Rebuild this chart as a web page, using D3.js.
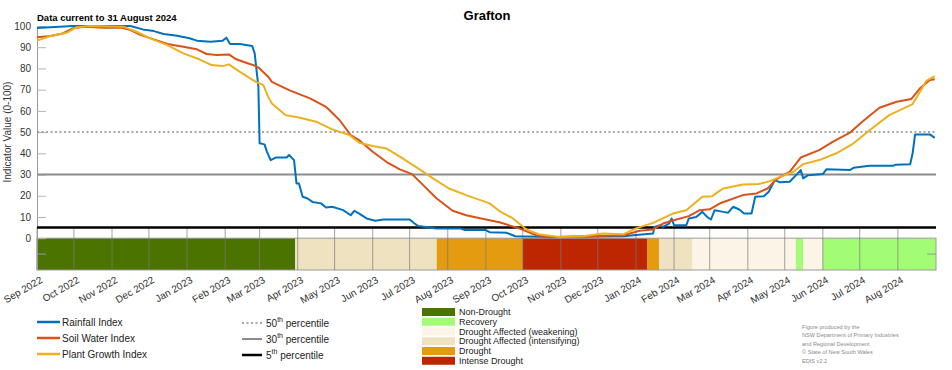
<!DOCTYPE html>
<html>
<head>
<meta charset="utf-8">
<script src="https://cdn.jsdelivr.net/npm/d3@7"></script>
<style>
  body { margin: 0; background: #fff; }
  svg { display: block; font-family: "Liberation Sans", Arial, sans-serif; }
</style>
</head>
<body>
<div class="chart"></div>
<script>
// index values, [date, value]
const rainfallIndex = [
  ["2022-09-01", 99], ["2022-09-30", 100], ["2022-11-16", 100], ["2022-11-26", 98.4],
  ["2022-12-05", 97.6], ["2022-12-13", 96.2], ["2022-12-24", 95.4], ["2023-01-03", 94.2],
  ["2023-01-09", 93.1], ["2023-01-20", 92.6], ["2023-01-30", 93.1], ["2023-02-02", 94.5],
  ["2023-02-05", 91.5], ["2023-02-13", 91.5], ["2023-02-23", 90.6], ["2023-02-25", 87.1],
  ["2023-02-28", 71.4], ["2023-03-01", 44.7], ["2023-03-05", 44.2], ["2023-03-07", 40.7],
  ["2023-03-10", 36.8], ["2023-03-14", 38], ["2023-03-23", 38], ["2023-03-25", 39.2],
  ["2023-03-29", 36.8], ["2023-03-31", 25.8], ["2023-04-02", 25.8], ["2023-04-05", 19.5],
  ["2023-04-09", 18.7], ["2023-04-13", 17.1], ["2023-04-20", 16.4], ["2023-04-24", 14.5],
  ["2023-04-29", 14.8], ["2023-05-08", 13.2], ["2023-05-14", 10.8], ["2023-05-17", 12.9],
  ["2023-05-21", 11.6], ["2023-05-27", 9.3], ["2023-06-03", 8.2], ["2023-06-10", 8.8],
  ["2023-07-01", 8.8], ["2023-07-05", 6.9], ["2023-07-08", 5.7], ["2023-07-23", 4.6],
  ["2023-08-11", 4.6], ["2023-08-15", 3.8], ["2023-09-01", 3.8], ["2023-09-04", 2.8],
  ["2023-09-18", 2.5], ["2023-09-25", 0.9], ["2023-10-28", 0.6], ["2023-12-22", 0.9],
  ["2023-12-30", 1.4], ["2024-01-15", 2.2], ["2024-01-16", 5.3], ["2024-01-20", 6],
  ["2024-01-23", 5.3], ["2024-01-28", 6.9], ["2024-01-30", 9.3], ["2024-02-01", 6.1],
  ["2024-02-11", 6.1], ["2024-02-13", 9.3], ["2024-02-19", 10], ["2024-02-24", 12.4],
  ["2024-02-28", 10], ["2024-03-02", 8.8], ["2024-03-05", 13.2], ["2024-03-12", 12.4],
  ["2024-03-16", 12], ["2024-03-20", 14.8], ["2024-03-25", 13.5], ["2024-03-29", 11.6],
  ["2024-04-04", 11.6], ["2024-04-07", 19.5], ["2024-04-14", 19.8], ["2024-04-18", 21.9],
  ["2024-04-23", 27.4], ["2024-04-27", 26.3], ["2024-05-05", 26.6], ["2024-05-11", 30.2],
  ["2024-05-14", 32.1], ["2024-05-16", 28.2], ["2024-05-20", 29.7], ["2024-06-01", 30.2],
  ["2024-06-04", 32.5], ["2024-06-23", 32.1], ["2024-06-26", 33.2], ["2024-07-09", 34.1],
  ["2024-07-28", 34.1], ["2024-07-30", 34.6], ["2024-08-11", 34.8], ["2024-08-13", 40],
  ["2024-08-15", 48.9], ["2024-08-27", 48.9], ["2024-08-31", 47.3]
];

const soilWaterIndex = [
  ["2022-09-01", 94.7], ["2022-09-12", 95.3], ["2022-09-22", 96.5], ["2022-09-30", 98.9],
  ["2022-10-10", 99.7], ["2022-10-25", 99.2], ["2022-11-09", 99.2], ["2022-11-16", 98.1],
  ["2022-11-24", 95.8], ["2022-12-05", 93.7], ["2022-12-16", 91.5], ["2022-12-29", 90.2],
  ["2023-01-09", 89], ["2023-01-17", 86.8], ["2023-01-25", 86.3], ["2023-02-04", 86.6],
  ["2023-02-10", 84.3], ["2023-02-18", 82.7], ["2023-02-26", 81.1], ["2023-03-01", 80],
  ["2023-03-08", 76.1], ["2023-03-11", 73.7], ["2023-03-25", 69.8], ["2023-04-11", 65.9],
  ["2023-04-24", 61.9], ["2023-05-05", 55.7], ["2023-05-14", 48.6], ["2023-05-21", 46.2],
  ["2023-06-01", 40.7], ["2023-06-12", 36], ["2023-06-23", 32.4], ["2023-07-03", 30.2],
  ["2023-07-12", 25], ["2023-07-23", 18.7], ["2023-08-05", 12.9], ["2023-08-16", 10.8],
  ["2023-09-01", 8.8], ["2023-09-12", 7.5], ["2023-09-28", 4.6], ["2023-10-12", 1.4],
  ["2023-10-28", 0.6], ["2023-11-24", 0.9], ["2023-12-22", 1.4], ["2024-01-04", 3.5],
  ["2024-01-15", 4.1], ["2024-01-23", 6.9], ["2024-02-03", 8.8], ["2024-02-13", 10.4],
  ["2024-02-22", 13.2], ["2024-03-01", 13.6], ["2024-03-10", 16.6], ["2024-03-28", 20.3],
  ["2024-04-08", 21.1], ["2024-04-17", 23.4], ["2024-04-24", 27.7], ["2024-05-05", 31.3],
  ["2024-05-14", 38], ["2024-05-29", 41.5], ["2024-06-09", 45.4], ["2024-06-23", 49.7],
  ["2024-07-03", 54.9], ["2024-07-17", 61.5], ["2024-07-31", 64.3], ["2024-08-12", 65.6],
  ["2024-08-19", 70.6], ["2024-08-27", 74.5], ["2024-08-31", 74.9]
];

const plantGrowthIndex = [
  ["2022-09-01", 93.1], ["2022-09-12", 95.3], ["2022-09-25", 96.8], ["2022-10-03", 99.4],
  ["2022-10-14", 100], ["2022-11-10", 99.7], ["2022-11-21", 97.3], ["2022-12-02", 94.2],
  ["2022-12-16", 91], ["2022-12-29", 87.1], ["2023-01-11", 84.3], ["2023-01-21", 81.6],
  ["2023-01-30", 81.1], ["2023-02-04", 81.9], ["2023-02-13", 78.4], ["2023-02-26", 73.7],
  ["2023-03-04", 72.2], ["2023-03-08", 66.6], ["2023-03-11", 63.5], ["2023-03-22", 58],
  ["2023-04-02", 56.9], ["2023-04-16", 54.9], ["2023-04-29", 51.3], ["2023-05-13", 48.6],
  ["2023-05-21", 45], ["2023-06-01", 43.4], ["2023-06-12", 42.3], ["2023-06-23", 38.4],
  ["2023-07-06", 33.6], ["2023-07-20", 28.2], ["2023-08-02", 23.4], ["2023-08-16", 20.3],
  ["2023-09-04", 16.4], ["2023-09-12", 12.8], ["2023-09-23", 9.3], ["2023-10-04", 4.1],
  ["2023-10-15", 1.7], ["2023-10-31", 0.6], ["2023-11-19", 0.9], ["2023-12-05", 2.2],
  ["2023-12-22", 1.9], ["2024-01-01", 4.6], ["2024-01-15", 7.2], ["2024-01-31", 11.6],
  ["2024-02-11", 13.2], ["2024-02-24", 19.5], ["2024-03-03", 19.8], ["2024-03-09", 22.3],
  ["2024-03-12", 23.4], ["2024-03-28", 25.3], ["2024-04-10", 25.5], ["2024-04-19", 26.9],
  ["2024-04-27", 28.9], ["2024-05-08", 31.3], ["2024-05-16", 34.9], ["2024-05-29", 36.8],
  ["2024-06-12", 40], ["2024-06-26", 44.7], ["2024-07-09", 50.9], ["2024-07-25", 58],
  ["2024-08-13", 63.2], ["2024-08-19", 69], ["2024-08-24", 74.1], ["2024-08-31", 76.4]
];

// drought category bar: [from, to, category]
const droughtPhases = [
  ["2022-09-01", "2023-03-30", "Non-Drought"],
  ["2023-03-30", "2023-07-23", "Drought Affected (intensifying)"],
  ["2023-07-23", "2023-10-01", "Drought"],
  ["2023-10-01", "2024-01-10", "Intense Drought"],
  ["2024-01-10", "2024-01-20", "Drought"],
  ["2024-01-20", "2024-02-16", "Drought Affected (intensifying)"],
  ["2024-02-16", "2024-05-10", "Drought Affected (weakening)"],
  ["2024-05-10", "2024-05-16", "Recovery"],
  ["2024-05-16", "2024-06-01", "Drought Affected (weakening)"],
  ["2024-06-01", "2024-09-01", "Recovery"]
];

const categories = ["Non-Drought", "Recovery", "Drought Affected (weakening)",
  "Drought Affected (intensifying)", "Drought", "Intense Drought"];
const categoryColors = ["#4b7300", "#a3fd74", "#fdf4e8", "#eee2c0", "#e49b0f", "#bd2600"];

const seriesNames = ["Rainfall Index", "Soil Water Index", "Plant Growth Index"];
const seriesColors = ["#0072bd", "#d95319", "#edb120"];

const percentiles = [50, 30, 5];
const yTicks = [0, 10, 20, 30, 40, 50, 60, 70, 80, 90, 100];

const credits = ["Figure produced by the", "NSW Department of Primary Industries",
  "and Regional Development", "\u00a9 State of New South Wales", "EDIS v2.2"];

const width = 952;
const height = 370;
const parse = d3.timeParse("%Y-%m-%d");

const svg = d3.select(".chart").append("svg")
  .attr("width", width)
  .attr("height", height);

const x = d3.scaleTime()
  .domain([parse("2022-09-01"), parse("2024-09-01")])
  .range([37, 936]);

const y = d3.scaleLinear()
  .domain([-15, 100])
  .range([270, 26]);

const color = d3.scaleOrdinal().domain(categories).range(categoryColors);

// drought band
svg.append("g").selectAll("rect")
  .data(droughtPhases)
  .enter().append("rect")
  .attr("x", d => x(parse(d[0])))
  .attr("y", y(0))
  .attr("width", d => x(parse(d[1])) - x(parse(d[0])))
  .attr("height", y(-15) - y(0))
  .attr("fill", d => color(d[2]));

svg.append("rect")
  .attr("x", x.range()[0]).attr("y", y(0))
  .attr("width", x.range()[1] - x.range()[0]).attr("height", y(-15) - y(0))
  .attr("fill", "none").attr("stroke", "#9a9a9a").attr("stroke-width", 1);

// month grid in the band
const months = d3.timeMonth.range(parse("2022-09-01"), parse("2024-09-01"));
svg.append("g").selectAll("line")
  .data(months)
  .enter().append("line")
  .attr("x1", d => x(d)).attr("x2", d => x(d))
  .attr("y1", y(5)).attr("y2", y(-15))
  .attr("stroke", "#7a7a7a").attr("stroke-opacity", 0.7).attr("stroke-width", 1);

// band tick marks
svg.append("line").attr("x1", 37).attr("x2", 46).attr("y1", y(-7.5)).attr("y2", y(-7.5))
  .attr("stroke", "#9a9a9a");
svg.append("line").attr("x1", 927).attr("x2", 936).attr("y1", y(-7.5)).attr("y2", y(-7.5))
  .attr("stroke", "#9a9a9a");

// y axis
const yAxis = d3.axisLeft(y).tickValues(yTicks).tickSize(-9).tickPadding(6);
svg.append("g")
  .attr("transform", "translate(37,0)")
  .call(yAxis)
  .call(g => g.select(".domain").attr("d", "M0.5," + y(100) + "V" + y(-15)).attr("stroke", "#9a9a9a"))
  .call(g => g.selectAll(".tick line").attr("stroke", "#b5b5b5"))
  .call(g => g.selectAll(".tick text")
    .attr("font-size", 10).attr("fill", "#333").attr("font-family", "Liberation Sans"));

svg.append("text")
  .attr("transform", "translate(11," + y(50) + ") rotate(-90)")
  .attr("text-anchor", "middle")
  .attr("font-size", 10)
  .attr("fill", "#333")
  .text("Indicator Value (0-100)");

// x axis
const xAxis = d3.axisBottom(x).tickValues(months)
  .tickFormat(d3.timeFormat("%b %Y")).tickSize(0);
svg.append("g")
  .attr("transform", "translate(0," + y(-15) + ")")
  .call(xAxis)
  .call(g => g.select(".domain").remove())
  .call(g => g.selectAll(".tick text")
    .attr("x", 0).attr("y", 0).attr("dy", "0.35em")
    .attr("text-anchor", "end")
    .attr("transform", "translate(4,9) rotate(-30)")
    .attr("font-size", 10).attr("fill", "#333").attr("font-family", "Liberation Sans"));

// percentile lines
const pctStyle = [
  { stroke: "#8c8c8c", width: 1.5, dash: "2,2.5" },
  { stroke: "#8c8c8c", width: 2, dash: null },
  { stroke: "#000", width: 2.5, dash: null }
];
svg.append("g").selectAll("line")
  .data(percentiles)
  .enter().append("line")
  .attr("x1", x.range()[0]).attr("x2", x.range()[1])
  .attr("y1", d => y(d)).attr("y2", d => y(d))
  .attr("stroke", (d, i) => pctStyle[i].stroke)
  .attr("stroke-width", (d, i) => pctStyle[i].width)
  .attr("stroke-dasharray", (d, i) => pctStyle[i].dash);

// index lines
const line = d3.line()
  .x(d => x(parse(d[0])))
  .y(d => y(d[1]));

const series = [rainfallIndex, soilWaterIndex, plantGrowthIndex];
svg.append("g").selectAll("path")
  .data(series)
  .enter().append("path")
  .attr("d", line)
  .attr("fill", "none")
  .attr("stroke", (d, i) => seriesColors[i])
  .attr("stroke-width", 2)
  .attr("stroke-linejoin", "round");

// titles
svg.append("text")
  .attr("x", 487).attr("y", 20)
  .attr("text-anchor", "middle")
  .attr("font-size", 13).attr("font-weight", "bold")
  .text("Grafton");

svg.append("text")
  .attr("x", 37).attr("y", 21)
  .attr("font-size", 9.5).attr("font-weight", "bold")
  .text("Data current to 31 August 2024");

// legend: indices
const seriesLegend = svg.append("g").selectAll("g")
  .data(seriesNames)
  .enter().append("g")
  .attr("transform", (d, i) => "translate(37," + (322 + i * 16) + ")");
seriesLegend.append("line")
  .attr("x1", 0).attr("x2", 23)
  .attr("stroke", (d, i) => seriesColors[i]).attr("stroke-width", 2.5);
seriesLegend.append("text")
  .attr("x", 25).attr("dy", "0.35em")
  .attr("font-size", 10).attr("fill", "#222")
  .text(d => d);

// legend: percentiles
const pctLegend = svg.append("g").selectAll("g")
  .data(percentiles)
  .enter().append("g")
  .attr("transform", (d, i) => "translate(242," + (323 + i * 16) + ")");
pctLegend.append("line")
  .attr("x1", 0).attr("x2", 20)
  .attr("stroke", (d, i) => pctStyle[i].stroke)
  .attr("stroke-width", (d, i) => pctStyle[i].width)
  .attr("stroke-dasharray", (d, i) => pctStyle[i].dash);
const pctText = pctLegend.append("text")
  .attr("x", 24).attr("dy", "0.35em")
  .attr("font-size", 10).attr("fill", "#222");
pctText.append("tspan").text(d => d);
pctText.append("tspan").attr("font-size", 7).attr("dy", "-0.6em").text("th");
pctText.append("tspan").attr("dy", "0.42em").text(" percentile");

// legend: drought categories
const catLegend = svg.append("g").selectAll("g")
  .data(categories)
  .enter().append("g")
  .attr("transform", (d, i) => "translate(422," + (312 + i * 9.75) + ")");
catLegend.append("rect")
  .attr("x", 0).attr("y", -4)
  .attr("width", 33).attr("height", 8)
  .attr("fill", d => color(d));
catLegend.append("text")
  .attr("x", 37).attr("dy", "0.35em")
  .attr("font-size", 9).attr("fill", "#222")
  .text(d => d);

// credits
svg.append("g").selectAll("text")
  .data(credits)
  .enter().append("text")
  .attr("x", 802).attr("y", (d, i) => 329 + i * 8.4)
  .attr("font-size", 5.6).attr("fill", "#8a8a8a")
  .text(d => d);
</script>
</body>
</html>
